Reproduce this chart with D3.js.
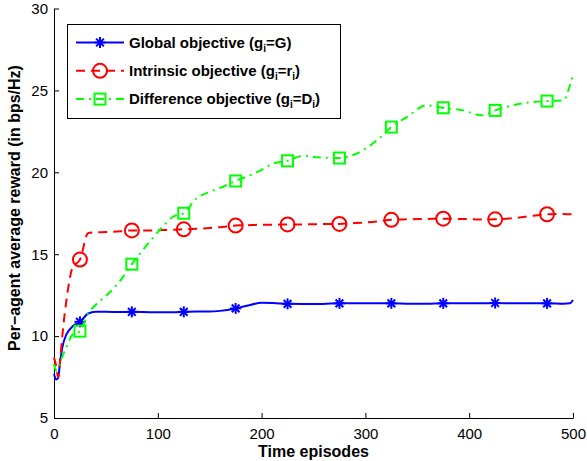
<!DOCTYPE html>
<html>
<head>
<meta charset="utf-8">
<script src="https://cdn.jsdelivr.net/npm/d3@7"></script>
<style>
  body { margin: 0; background: #fff; }
  svg { display: block; font-family: "Liberation Sans", Arial, sans-serif; }
</style>
</head>
<body>
<div id="chart"></div>
<script>
// episodes sampled along the curves
var episodes = [0, 2, 4, 6, 8, 12, 18, 25, 33, 40, 50, 64, 75, 92, 105, 115, 125, 137, 150, 160,
  175, 190, 200, 211, 225, 240, 250, 275, 290, 311, 325, 340, 359, 375, 394, 412, 425, 442,
  462, 475, 491, 497, 500];

var globalReward = [7.7, 7.35, 7.45, 8.5, 9.3, 10.1, 10.6, 10.87, 11.38, 11.48, 11.48, 11.47,
  11.48, 11.46, 11.45, 11.45, 11.48, 11.5, 11.5, 11.54, 11.69, 11.92, 12.03, 12.02, 11.97,
  11.96, 11.96, 12.0, 12.0, 12.0, 12.0, 11.98, 11.97, 12.0, 12.0, 12.0, 12.02, 12.0, 12.0,
  12.0, 11.98, 12.0, 12.2];

var intrinsicReward = [8.7, 8.2, 7.5, 8.6, 10.0, 12.2, 14.2, 14.67, 16.3, 16.33, 16.35, 16.4,
  16.45, 16.45, 16.47, 16.5, 16.52, 16.55, 16.6, 16.65, 16.75, 16.78, 16.8, 16.8, 16.82,
  16.82, 16.83, 16.85, 16.9, 17.0, 17.1, 17.13, 17.15, 17.17, 17.15, 17.12, 17.13, 17.2,
  17.35, 17.44, 17.45, 17.44, 17.44];

var differenceReward = [8.3, 7.9, 8.0, 8.4, 8.74, 9.35, 10.1, 10.3, 11.38, 11.9, 12.45, 13.4,
  14.39, 15.75, 16.7, 17.3, 17.5, 18.4, 18.8, 19.05, 19.47, 19.85, 20.15, 20.53, 20.7, 21.0,
  20.93, 20.87, 21.1, 21.95, 22.76, 23.37, 24.09, 23.94, 23.78, 23.48, 23.78, 24.09, 24.29,
  24.35, 24.39, 25.3, 25.9];

// markers sit on every 50 episodes starting at 25
var markerEpisodes = [25, 75, 125, 175, 225, 275, 325, 375, 425, 475];

var xTicks = [0, 100, 200, 300, 400, 500];
var yTicks = [5, 10, 15, 20, 25, 30];

var series = [
  { name: "Global objective (g", sub1: "i", mid: "=G", sub2: "", end: ")", values: globalReward,
    color: "#0000ff", dash: null, marker: "star", width: 2 },
  { name: "Intrinsic objective (g", sub1: "i", mid: "=r", sub2: "i", end: ")", values: intrinsicReward,
    color: "#ff0000", dash: "9,6", marker: "circle", width: 2 },
  { name: "Difference objective (g", sub1: "i", mid: "=D", sub2: "i", end: ")", values: differenceReward,
    color: "#00ff00", dash: "8,5,2,5", marker: "square", width: 2 }
];

var svgWidth = 587, svgHeight = 461;
var margin = { top: 8.5, right: 14, bottom: 43, left: 54 };
var width = svgWidth - margin.left - margin.right;
var height = svgHeight - margin.top - margin.bottom;

var svg = d3.select("#chart").append("svg")
  .attr("width", svgWidth)
  .attr("height", svgHeight);

var g = svg.append("g")
  .attr("transform", `translate(${margin.left},${margin.top})`);

var x = d3.scaleLinear().domain([0, 500]).range([0, width]);
var y = d3.scaleLinear().domain([5, 30]).range([height, 0]);

// axes, MATLAB style ticks pointing inward
var xAxis = g.append("g")
  .attr("transform", `translate(0,${height})`)
  .call(d3.axisBottom(x).tickValues(xTicks).tickSizeInner(-5).tickSizeOuter(0).tickPadding(10));
var yAxis = g.append("g")
  .call(d3.axisLeft(y).tickValues(yTicks).tickSizeInner(-5).tickSizeOuter(0).tickPadding(6));

[xAxis, yAxis].forEach(function(ax) {
  ax.selectAll("text").style("font-size", "15px").attr("fill", "#000");
  ax.selectAll("line").attr("stroke", "#000");
  ax.select(".domain").attr("stroke", "#000");
});

// draw a marker symbol at (cx, cy)
function drawMarker(sel, type, cx, cy, color) {
  if (type === "circle") {
    sel.append("circle").attr("cx", cx).attr("cy", cy).attr("r", 7)
      .attr("fill", "none").attr("stroke", color).attr("stroke-width", 2);
  } else if (type === "square") {
    sel.append("rect").attr("x", cx - 5.5).attr("y", cy - 5.5).attr("width", 11).attr("height", 11)
      .attr("fill", "none").attr("stroke", color).attr("stroke-width", 2);
  } else {
    var r = 5.5;
    var s = sel.append("g").attr("stroke", color).attr("stroke-width", 2);
    s.append("line").attr("x1", cx - r).attr("x2", cx + r).attr("y1", cy).attr("y2", cy);
    s.append("line").attr("x1", cx).attr("x2", cx).attr("y1", cy - r).attr("y2", cy + r);
    s.append("line").attr("x1", cx - r * 0.7).attr("x2", cx + r * 0.7).attr("y1", cy - r * 0.7).attr("y2", cy + r * 0.7);
    s.append("line").attr("x1", cx - r * 0.7).attr("x2", cx + r * 0.7).attr("y1", cy + r * 0.7).attr("y2", cy - r * 0.7);
  }
}

var line = d3.line()
  .x(d => x(d[0]))
  .y(d => y(d[1]))
  .curve(d3.curveMonotoneX);

series.forEach(function(s) {
  var pts = episodes.map((e, i) => [e, s.values[i]]);
  g.append("path")
    .datum(pts)
    .attr("d", line)
    .attr("fill", "none")
    .attr("stroke", s.color)
    .attr("stroke-width", s.width)
    .attr("stroke-dasharray", s.dash);

  var mg = g.append("g");
  pts.filter(p => markerEpisodes.indexOf(p[0]) >= 0).forEach(function(p) {
    drawMarker(mg, s.marker, x(p[0]), y(p[1]), s.color);
  });
});

// axis titles
svg.append("text")
  .attr("x", margin.left + width / 2)
  .attr("y", 457)
  .attr("text-anchor", "middle")
  .style("font-size", "16px")
  .style("font-weight", "bold")
  .text("Time episodes");

svg.append("text")
  .attr("transform", "translate(20,208) rotate(-90)")
  .attr("text-anchor", "middle")
  .style("font-size", "16px")
  .style("font-weight", "bold")
  .text("Per\u2212agent average reward (in bps/Hz)");

// legend
var legend = svg.append("g");
legend.append("rect")
  .attr("x", 67.5).attr("y", 24.5).attr("width", 273).attr("height", 94)
  .attr("fill", "#fff").attr("stroke", "#000").attr("stroke-width", 1);

series.forEach(function(s, i) {
  var ly = 42.5 + i * 28.3;
  legend.append("line")
    .attr("x1", 76).attr("x2", 124).attr("y1", ly).attr("y2", ly)
    .attr("stroke", s.color).attr("stroke-width", s.width)
    .attr("stroke-dasharray", s.dash);
  drawMarker(legend, s.marker, 100, ly, s.color);

  var t = legend.append("text")
    .attr("x", 129).attr("y", ly + 5)
    .style("font-size", "15px")
    .style("font-weight", "bold");
  t.append("tspan").text(s.name);
  t.append("tspan").attr("dy", 4).style("font-size", "10px").text(s.sub1);
  t.append("tspan").attr("dy", -4).text(s.mid);
  if (s.sub2) {
    t.append("tspan").attr("dy", 4).style("font-size", "10px").text(s.sub2);
    t.append("tspan").attr("dy", -4).text(s.end);
  } else {
    t.append("tspan").text(s.end);
  }
});
</script>
</body>
</html>
